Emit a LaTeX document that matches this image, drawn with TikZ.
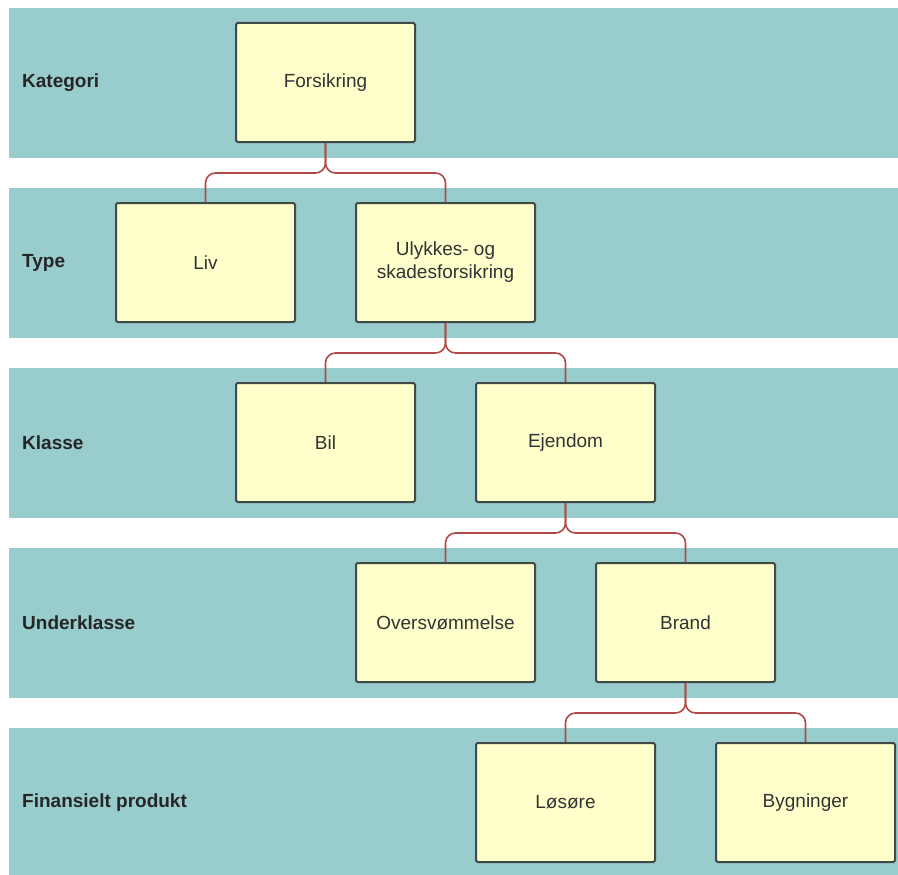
\documentclass[tikz,border=0pt]{standalone}
\usepackage{fontspec}
\setmainfont{Liberation Sans}

\definecolor{bandteal}{HTML}{99CCCC}
\definecolor{boxyellow}{HTML}{FFFFCC}
\definecolor{boxedge}{HTML}{3F4A45}
\definecolor{linkred}{HTML}{B04A4A}

\tikzset{
  entity/.style={draw=boxedge, fill=boxyellow, line width=2pt, rounded corners=1.5pt,
    minimum width=179pt, minimum height=119pt, inner sep=0pt, align=center,
    text=black!80, font=\fontsize{19}{23}\selectfont},
  level/.style={anchor=west, inner sep=0pt, text=black!85, font=\bfseries\fontsize{19}{23}\selectfont},
  link/.style={draw=linkred, line width=1.6pt, rounded corners=10pt}
}

\begin{document}
\begin{tikzpicture}[x=1pt,y=-1pt]
\useasboundingbox (0,0) rectangle (898,875);

% bands with level names
\foreach \name/\i in {Kategori/0, Type/1, Klasse/2, Underklasse/3, Finansielt produkt/4} {
  \fill[bandteal] (9,8+180*\i) rectangle (898,158+180*\i);
  \node[level] (lvl\i) at (22,83+180*\i) {\name};
}

% boxes
\node[entity] (forsikring) at (325.5,82.5) {Forsikring};
\node[entity] (liv) at (205.5,262.5) {Liv};
\node[entity] (ulykke) at (445.5,262.5) {Ulykkes- og\\skadesforsikring};
\node[entity] (bil) at (325.5,442.5) {Bil};
\node[entity] (ejendom) at (565.5,442.5) {Ejendom};
\node[entity] (oversvom) at (445.5,622.5) {Oversvømmelse};
\node[entity] (brand) at (685.5,622.5) {Brand};
\node[entity] (losore) at (565.5,802.5) {Løsøre};
\node[entity] (bygning) at (805.5,802.5) {Bygninger};

% links
\foreach \p/\c in {forsikring/liv, forsikring/ulykke, ulykke/bil, ulykke/ejendom,
                   ejendom/oversvom, ejendom/brand, brand/losore, brand/bygning}
  \draw[link] (\p.south) -- ([yshift=-30pt]\p.south) -| (\c.north);

\end{tikzpicture}
\end{document}
